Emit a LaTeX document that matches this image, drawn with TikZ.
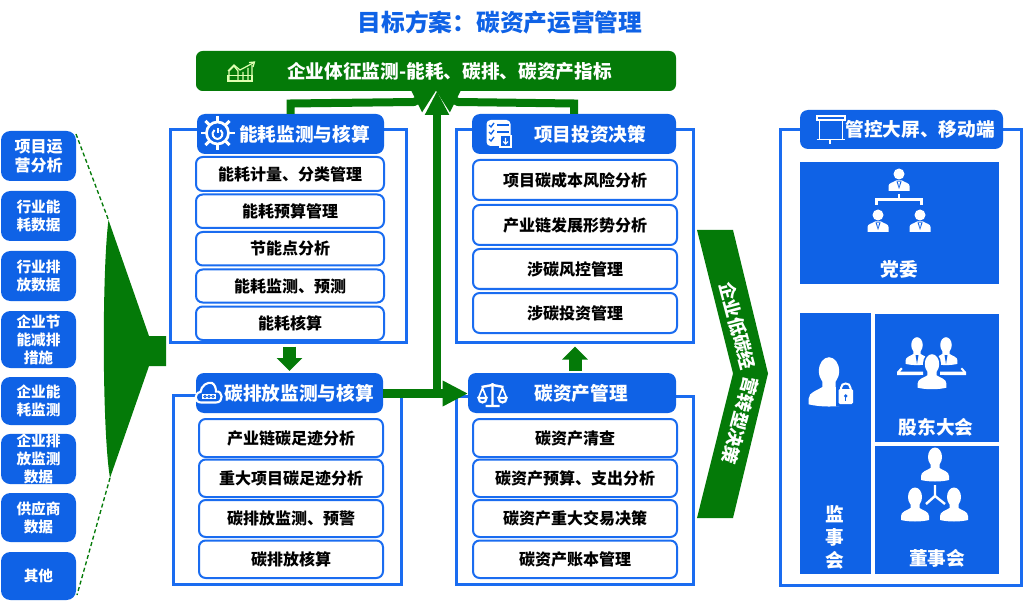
\documentclass[tikz,border=0pt]{standalone}
\usepackage{fontspec}
\setmainfont{Noto Sans CJK SC}
\usetikzlibrary{arrows.meta}
\definecolor{bluef}{HTML}{0F62E6}
\definecolor{bluel}{HTML}{1A6CF0}
\definecolor{greenf}{HTML}{047A08}
\tikzset{
  base/.style={inner sep=0pt,outer sep=0pt,align=center,font=\bfseries},
  framebox/.style={draw=bluel,line width=2.25pt},
  hdrbox/.style={base,fill=bluef,rounded corners=6pt},
  itembox/.style={base,draw=bluel,line width=1.5pt,fill=white,rounded corners=5pt,text=black,font=\bfseries\fontsize{12}{15}\selectfont},
  srcbox/.style={base,fill=bluef,rounded corners=7pt,text=white,font=\bfseries\fontsize{11}{13.5}\selectfont},
  blockbox/.style={base,fill=bluef,text=white},
  hdrtext/.style={base,text=white,font=\bfseries\fontsize{14}{17}\selectfont},
  blocktext/.style={base,text=white,font=\bfseries\fontsize{14}{17}\selectfont},
  bigflow/.style={draw=greenf,line width=6pt,-{Triangle[length=16.5pt,width=18pt]}},
  midflow/.style={draw=greenf,line width=9.75pt,-{Triangle[length=9.75pt,width=18.75pt]}},
  icon/.style={white,line width=1.4pt},
  dashline/.style={draw=greenf,line width=1pt,dash pattern=on 3pt off 2pt},
  slanttext/.style={base,text=white,font=\bfseries\fontsize{13.5}{15}\selectfont},
}
\newcommand{\bxn}[7]{\node[#1,minimum width={(#5-#3)*0.75pt},minimum height={(#6-#4)*0.75pt}] (#2) at ({(#3+#5)/2},{(#4+#6)/2}) {#7};}
\newcommand{\suit}[3]{\begin{scope}[shift={(#1,#2)},scale=#3]
  \fill[white] (0,0) circle (5.5);
  \fill[white] (-10.5,17) -- (-10.5,12) .. controls (-10.5,9) and (-6,8.5) .. (-3,6.5) -- (3,6.5) .. controls (6,8.5) and (10.5,9) .. (10.5,12) -- (10.5,17) -- cycle;
  \fill[bluef] (-2.5,7.5) -- (2.5,7.5) -- (0,15) -- cycle;
  \fill[white] (-1,8) -- (1,8) -- (0,13) -- cycle;
\end{scope}}
\newcommand{\bust}[3]{\begin{scope}[shift={(#1,#2)},scale=#3]
  \fill[white] (0,0) ellipse (7 and 9.5);
  \fill[white] (-14,23) -- (-14,19) .. controls (-14,14.5) and (-8,13.5) .. (-4.5,11) -- (-4.5,6) -- (4.5,6) -- (4.5,11) .. controls (8,13.5) and (14,14.5) .. (14,19) -- (14,23) .. controls (6,25) and (-6,25) .. (-14,23) -- cycle;
\end{scope}}
\begin{document}
\begin{tikzpicture}[x=0.75pt,y=-0.75pt]
\useasboundingbox (0,0) rectangle (1024,602);
\fill[white] (0,0) rectangle (1024,602);

% title
\node[base,text=bluef,font=\bfseries\fontsize{17.8}{20}\selectfont] (title) at (500,22) {目标方案：碳资产运营管理};

% top bar
\bxn{base,fill=greenf,rounded corners=5pt}{bar}{196}{51}{676}{91}{}
\node[base,text=white,font=\bfseries\fontsize{14}{16}\selectfont] (bartext) at (449.5,71.5) {企业体征监测-能耗、碳排、碳资产指标};

% frames
\bxn{framebox}{frameE}{170}{130}{406}{342}{}
\bxn{framebox}{frameC}{173}{395}{401}{584}{}
\bxn{framebox}{frameI}{456}{130}{693}{342}{}
\bxn{framebox}{frameA}{456}{396}{693}{584}{}
\bxn{framebox}{frameS}{780}{130}{1021}{585}{}

% connectors under headers
\coordinate (upL) at (290.5,103.5);
\coordinate (upLb) at (414,102);
\coordinate (upR) at (574,103.5);
\coordinate (upRb) at (458,102);

% headers
\bxn{hdrbox}{hdrE}{197}{114}{384}{154}{}
\bxn{hdrbox}{hdrC}{196}{373}{383}{413}{}
\bxn{hdrbox}{hdrI}{472}{114}{676}{154}{}
\bxn{hdrbox}{hdrA}{468}{373}{676}{413}{}
\bxn{hdrbox}{hdrS}{800}{110}{1003}{149}{}
\node[hdrtext] (tE) at (304.5,134) {能耗监测与核算};
\node[hdrtext] (tC) at (299,393) {碳排放监测与核算};
\node[hdrtext] (tI) at (590,134) {项目投资决策};
\node[hdrtext] (tA) at (581,393) {碳资产管理};
\node[hdrtext] (tS) at (920,129.5) {管控大屏、移动端};

% items E
\bxn{itembox}{e1}{196}{157}{384}{191}{能耗计量、分类管理}
\bxn{itembox}{e2}{196}{194.5}{384}{228}{能耗预算管理}
\bxn{itembox}{e3}{196}{232}{384}{265.5}{节能点分析}
\bxn{itembox}{e4}{196}{269.5}{384}{302.5}{能耗监测、预测}
\bxn{itembox}{e5}{196}{306.5}{384}{340}{能耗核算}
% items C
\bxn{itembox}{c1}{199}{419}{383}{457}{产业链碳足迹分析}
\bxn{itembox}{c2}{199}{459.5}{383}{497}{重大项目碳足迹分析}
\bxn{itembox}{c3}{199}{500}{383}{537}{碳排放监测、预警}
\bxn{itembox}{c4}{199}{540.5}{383}{578}{碳排放核算}
% items I
\bxn{itembox}{i1}{473}{160}{677}{200}{项目碳成本风险分析}
\bxn{itembox}{i2}{473}{205}{677}{245}{产业链发展形势分析}
\bxn{itembox}{i3}{473}{249}{677}{289}{涉碳风控管理}
\bxn{itembox}{i4}{473}{293}{677}{333}{涉碳投资管理}
% items A
\bxn{itembox}{a1}{473}{419}{677}{457}{碳资产清查}
\bxn{itembox}{a2}{473}{459.5}{677}{497}{碳资产预算、支出分析}
\bxn{itembox}{a3}{473}{500}{677}{537}{碳资产重大交易决策}
\bxn{itembox}{a4}{473}{540.5}{677}{578}{碳资产账本管理}

% sources
\bxn{srcbox,font=\bfseries\fontsize{12}{14.5}\selectfont}{s1}{1}{131}{76}{181}{项目运\\营分析}
\bxn{srcbox}{s2}{1}{191}{76}{241}{行业能\\耗数据}
\bxn{srcbox}{s3}{1}{251}{76}{301}{行业排\\放数据}
\bxn{srcbox}{s4}{1}{311}{76}{368}{企业节\\能减排\\措施}
\bxn{srcbox}{s5}{1}{377}{76}{425}{企业能\\耗监测}
\bxn{srcbox}{s6}{1}{434}{76}{484}{企业排\\放监测\\数据}
\bxn{srcbox}{s7}{1}{493}{76}{542}{供应商\\数据}
\bxn{srcbox}{s8}{1}{552}{76}{600}{其他}

% funnel
\fill[greenf] (108.5,220) .. controls (102,270) and (102,430) .. (110,478) -- (149,366) -- (166,366) -- (166,336) -- (149,336) -- cycle;
\coordinate (fT) at (108.5,220);
\coordinate (fB) at (110,478);
\draw[dashline] (s1.north east) ++(0,3) -- (fT);
\draw[dashline] (fB) -- (77,595);

% flows
\draw[bigflow] (hdrE.north) -- (upL) -- (upLb) -- (bar.south);
\draw[bigflow] (hdrI.north) -- (upR) -- (upRb) -- (bar.south);
\coordinate (jn) at (437,393.5);
\draw[draw=greenf,line width=6pt,-{Triangle[length=18pt,width=17pt]}] (jn) -- (jn |- bar.south);
\draw[draw=greenf,line width=6.75pt,-{Triangle[length=19pt,width=18pt]}] (hdrC.east |- jn) -- (hdrA.west |- jn);
\draw[midflow,shorten <=2.25pt,shorten >=1.5pt] (frameE.south -| hdrC.north) -- (hdrC.north);
\draw[midflow,shorten >=2.25pt] ([xshift=2.25pt,yshift=1.5pt]hdrA.north) -- ([xshift=2.25pt]hdrA.north |- frameI.south);

% big chevron
\fill[greenf] (697,230) -- (733,230) -- (768,373.5) -- (733,518) -- (697,518) -- (733,373.5) -- cycle;
\node[slanttext,rotate=-75] (chU) at (737.5,326) {企业低碳经};
\node[slanttext,rotate=-105] (chD) at (740,420.5) {营转型决策};

% right blocks
\bxn{blockbox}{bDW}{800}{162}{999}{284}{}
\bxn{blockbox}{bJS}{800}{313}{870.5}{574}{}
\bxn{blockbox}{bGD}{874.5}{314}{999}{442}{}
\bxn{blockbox}{bDS}{874.5}{446}{999}{574}{}
\node[blocktext] (lDW) at (899.5,269) {党委};
\node[blocktext,font=\bfseries\fontsize{14}{17.25}\selectfont] (lJS) at (835,537) {监\\事\\会};
\node[blocktext] (lGD) at (936,427) {股东大会};
\node[blocktext] (lDS) at (937,558) {董事会};

% icon: chart
\begin{scope}[draw=green!20!lime!30!white,line width=0.9pt]
  \draw (228,81) rectangle (252,75.5);
  \draw (229,81) -- (229,71) -- (234,66) -- (238,71) -- (238,81) (243,81) -- (243,72) (248,81) -- (248,68) (252,81) -- (252,65);
  \draw (228,71) -- (234,65) -- (240,70) -- (254,62.5) (249,62.5) -- (254.5,62) -- (253,67);
\end{scope}
% icon: wheel
\begin{scope}[shift={(217.5,133)}]
  \draw[icon,line width=2pt] (0,0) circle (11);
  \draw[icon,line width=1.5pt] (0,-5) -- (0,0.5);
  \draw[icon,line width=1.5pt] (-3,-3) .. controls (-7.5,1) and (-3.5,6) .. (0,6) .. controls (3.5,6) and (7.5,1) .. (3,-3);
  \foreach \a in {0,45,...,315} \draw[icon,line width=2.2pt] (\a:11) -- (\a:17);
\end{scope}
% icon: cloud
\begin{scope}[shift={(209,392.5)}]
  \draw[icon,line width=1.6pt] (-8,10) .. controls (-15,10) and (-15,0) .. (-8.5,-0.5) .. controls (-8,-7) and (-1,-11) .. (3,-9.5) .. controls (6,-8) and (7,-4) .. (7,-1) .. controls (14,-2) and (15,10) .. (7,10) -- cycle;
  \fill[white] (-7,1.5) rectangle (7,6.5);
  \foreach \x in {-4,0,4} \draw[bluef,line width=0.7pt] (\x,4) circle (1.2);
\end{scope}
% icon: checklist
\fill[white,rounded corners=3pt] (486.5,120) rectangle (510.5,146);
\begin{scope}[bluef,line width=1pt]
  \draw[bluef] (489,125) -- (491,127) -- (494,123);
  \draw[bluef] (489,132) -- (491,134) -- (494,130);
  \draw[bluef] (489,139) -- (491,141) -- (494,137);
  \draw[bluef] (497,125) -- (509,125) (497,132) -- (509,132);
\end{scope}
\draw[white,fill=bluef,line width=0.8pt] (500,135.5) rectangle (511,147);
\draw[white,line width=0.8pt] (505.5,138) -- (505.5,144) (503,141.5) -- (505.5,144) -- (508,141.5);
% icon: scales
\begin{scope}[shift={(492.5,394)}]
  \draw[icon,line width=1.8pt] (0,-11) -- (0,11) (-7,12) -- (7,12) (-11,-7) -- (0,-9) -- (11,-7);
  \draw[icon,line width=1.2pt] (-10,-6) -- (-14,4) (-10,-6) -- (-6,4) (10,-6) -- (14,4) (10,-6) -- (6,4);
  \draw[icon,line width=1.6pt] (-14,4) .. controls (-14,10) and (-6,10) .. (-6,4) -- cycle;
  \draw[icon,line width=1.6pt] (14,4) .. controls (14,10) and (6,10) .. (6,4) -- cycle;
\end{scope}
% icon: screen
\draw[icon] (817,116) rectangle (845,120);
\draw[icon] (819.5,120) -- (819.5,139) (842.5,120) -- (842.5,139);
\draw[icon] (816.5,139.5) -- (845,139.5);
\draw[icon,line width=1.6pt] (830,139.5) -- (830,144);
% icon: party committee
\suit{899}{174}{1}
\suit{878}{215}{1}
\suit{920}{215}{1}
\draw[white,line width=1.7pt] (899,194) -- (899,199.5) (876.5,205) -- (876.5,199.5) -- (921.5,199.5) -- (921.5,205);
% icon: supervisors
\bust{829}{371}{1.45}
\fill[bluef] (836,386) rectangle (860,406);
\fill[white,rounded corners=1pt] (838.5,389) rectangle (853,404);
\draw[white,line width=1.5pt] (841,390) -- (841,388) .. controls (841,382) and (850.5,382) .. (850.5,388) -- (850.5,390);
\fill[bluef] (845.7,396) circle (1.8);
\fill[bluef] (845,396) rectangle (846.4,401);
% icon: shareholders
\bust{917}{345}{0.82}
\bust{946}{345}{0.82}
\fill[bluef] (915.5,355) -- (918.5,355) -- (917,364) -- cycle;
\fill[bluef] (944.5,355) -- (947.5,355) -- (946,364) -- cycle;
\fill[white] (897,375) -- (897,372) -- (901,367.5) -- (902.5,369) -- (900,371.5) -- (923,371.5) -- (923,375) -- cycle;
\fill[white] (966,375) -- (966,372) -- (962,367.5) -- (960.5,369) -- (963,371.5) -- (940,371.5) -- (940,375) -- cycle;
\fill[bluef] (932,364) ellipse (9 and 11.5);
\fill[bluef] (915,379) -- (921,375) -- (943,375) -- (949,379) -- (949,390) -- (915,390) -- cycle;
\bust{932}{364}{1.03}
% icon: directors
\bust{935}{457}{1}
\bust{915}{497}{1}
\bust{954}{497}{1}
\draw[white,line width=1.8pt] (935,485) -- (935,496) -- (926,504) (935,496) -- (945,504);
\end{tikzpicture}
\end{document}
